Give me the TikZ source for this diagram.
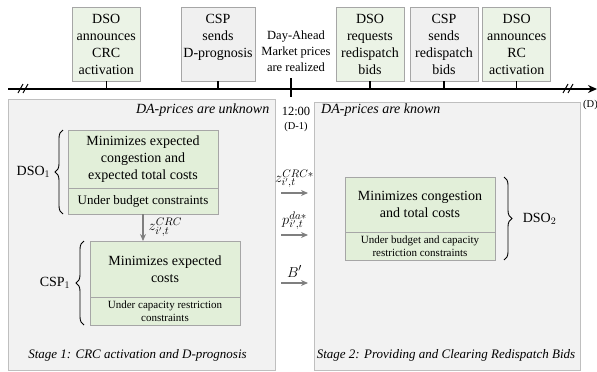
\documentclass[tikz,border=0pt]{standalone}
\usepackage{fontspec}
\setmainfont{Liberation Serif}
\usetikzlibrary{positioning,decorations.pathreplacing,arrows.meta}

\definecolor{optgreen}{HTML}{E2EFD9}
\definecolor{eventgreen}{HTML}{EBF3E6}
\definecolor{eventgray}{HTML}{F0F0F0}
\definecolor{panelgray}{HTML}{F2F2F2}
\definecolor{boxline}{HTML}{A6A6A6}
\definecolor{panelline}{HTML}{BFBFBF}
\definecolor{arrowgray}{HTML}{7F7F7F}

\tikzset{
  evgreen/.style={draw=boxline, fill=eventgreen, line width=0.9pt, align=center,
    minimum height=74pt, inner sep=2pt, font=\fontsize{14}{17}\selectfont},
  evgray/.style={evgreen, fill=eventgray},
  optbox/.style={draw=boxline, fill=optgreen, line width=0.9pt, align=center,
    inner sep=2pt, outer sep=0pt, minimum width=150pt, font=\fontsize{14}{17}\selectfont},
  conbox/.style={optbox, font=\fontsize{11}{13.5}\selectfont},
  panel/.style={draw=panelline, fill=panelgray, line width=0.8pt, inner sep=0pt},
  flow/.style={->, >={Stealth[length=7pt,width=6pt]}, draw=arrowgray, line width=1.8pt},
  brace/.style={decorate, decoration={brace, amplitude=8pt}, line width=0.9pt},
  mlabel/.style={font=\fontsize{15}{17}\selectfont, inner sep=1pt},
}

\begin{document}
\begin{tikzpicture}[x=1pt, y=-1pt, font=\fontsize{14}{16}\selectfont]
      \useasboundingbox (0,0) rectangle (597,372);

      \node[panel, minimum width=266.6pt, minimum height=270.7pt] (S1) at (141.7,234.7) {};
      \node[panel, minimum width=266pt, minimum height=267.3pt] (S2) at (447,236.3) {};

      \coordinate (t0) at (8,89);
      \coordinate (t1) at (597,89);
      \draw[->, >={Stealth[length=9pt,width=8pt]}, line width=1.4pt] (t0) -- (t1);
      \draw[line width=1pt] (18,93) -- (23,84) (23,93) -- (28,84);
      \draw[line width=1pt] (563,93) -- (568,84) (568,93) -- (573,84);

      \node[evgreen, minimum width=68pt] (T1) at (106.2,44) {DSO\\announces\\CRC\\activation};
      \node[evgray,  minimum width=74pt] (T2) at (218,44) {CSP\\sends\\D-prognosis\\\mbox{}};
      \node[evgreen, minimum width=68pt] (T3) at (370,44) {DSO\\requests\\redispatch\\bids};
      \node[evgray,  minimum width=68pt] (T4) at (444,44) {CSP\\sends\\redispatch\\bids};
      \node[evgreen, minimum width=68pt] (T5) at (516.7,44) {DSO\\announces\\RC\\activation};

      \foreach \t in {T1,T2,T3,T4,T5}
        \draw[line width=1.1pt] (\t.south) -- (\t.south |- t0);

      \node[align=center, font=\fontsize{12.5}{16}\selectfont] (DA) at (296,51) {Day-Ahead\\Market prices\\are realized};
      \coordinate (n0) at (291,78);
      \coordinate (n1) at (291,97);
      \draw[line width=1.1pt] (n0) -- (n1);
      \node[font=\fontsize{12.5}{14}\selectfont] (N) at (296,111) {12:00};
      \node[font=\fontsize{10.5}{12}\selectfont] (N1) at (296,127) {(D-1)};
      \node[anchor=west, inner sep=0pt, font=\fontsize{10.5}{12}\selectfont] (D) at (583,105) {(D)};

      \node[anchor=east, font=\fontsize{14}{16}\selectfont\itshape] (U) at (272.8,110) {DA-prices are unknown};
      \node[anchor=west, font=\fontsize{14}{16}\selectfont\itshape] (K) at (317.7,110) {DA-prices are known};

      \node[optbox, minimum height=58pt] (D1) at (143,159) {Minimizes expected\\congestion and\\expected total costs};
      \node[optbox, minimum height=26pt, below=0pt of D1, font=\fontsize{13}{15}\selectfont] (D1c) {Under budget constraints};
      \node[optbox, minimum height=56pt] (C1) at (165,269) {Minimizes expected\\costs};
      \node[conbox, minimum height=28pt, below=0pt of C1] (C1c) {Under capacity restriction\\constraints};
      \node[optbox, minimum height=55pt] (D2) at (420,204.5) {Minimizes congestion\\and total costs};
      \node[conbox, minimum height=28pt, below=0pt of D2] (D2c) {Under budget and capacity\\restriction constraints};

      \draw[brace] ([xshift=-5pt]D1c.south west) -- node[left=9pt] (L1) {DSO$_1$} ([xshift=-5pt]D1.north west);
      \draw[brace] ([xshift=-6pt]C1c.south west) -- node[left=10pt] (L2) {CSP$_1$} ([xshift=-6pt]C1.north west);
      \draw[brace] ([xshift=9pt]D2.north east) -- node[right=15pt] (L3) {DSO$_2$} ([xshift=9pt]D2c.south east);

      \draw[flow, line width=1.4pt] (D1c.south) -- (D1c.south |- C1.north) node[midway, right=4pt, mlabel] (zc) {$z^{CRC}_{i',t}$};

      \coordinate (zA) at (281,193);
      \coordinate (zB) at (308,193);
      \coordinate (pA) at (281,235);
      \coordinate (pB) at (308,235);
      \coordinate (bA) at (281,283);
      \coordinate (bB) at (308,283);
      \draw[flow] (zA) -- (zB) node[midway, above=3pt, mlabel] (zs) {$z^{CRC*}_{i',t}$};
      \draw[flow] (pA) -- (pB) node[midway, above=3pt, mlabel] (ps) {$p^{da*}_{i',t}$};
      \draw[flow] (bA) -- (bB) node[midway, above=4pt, mlabel] (bs) {$B'$};

      \node[font=\fontsize{13}{15}\selectfont\itshape] (St1) at (137.5,355) {Stage 1: CRC activation and D-prognosis};
      \node[font=\fontsize{13}{15}\selectfont\itshape] (St2) at (446,355) {Stage 2: Providing and Clearing Redispatch Bids};
    \end{tikzpicture}
\end{document}
